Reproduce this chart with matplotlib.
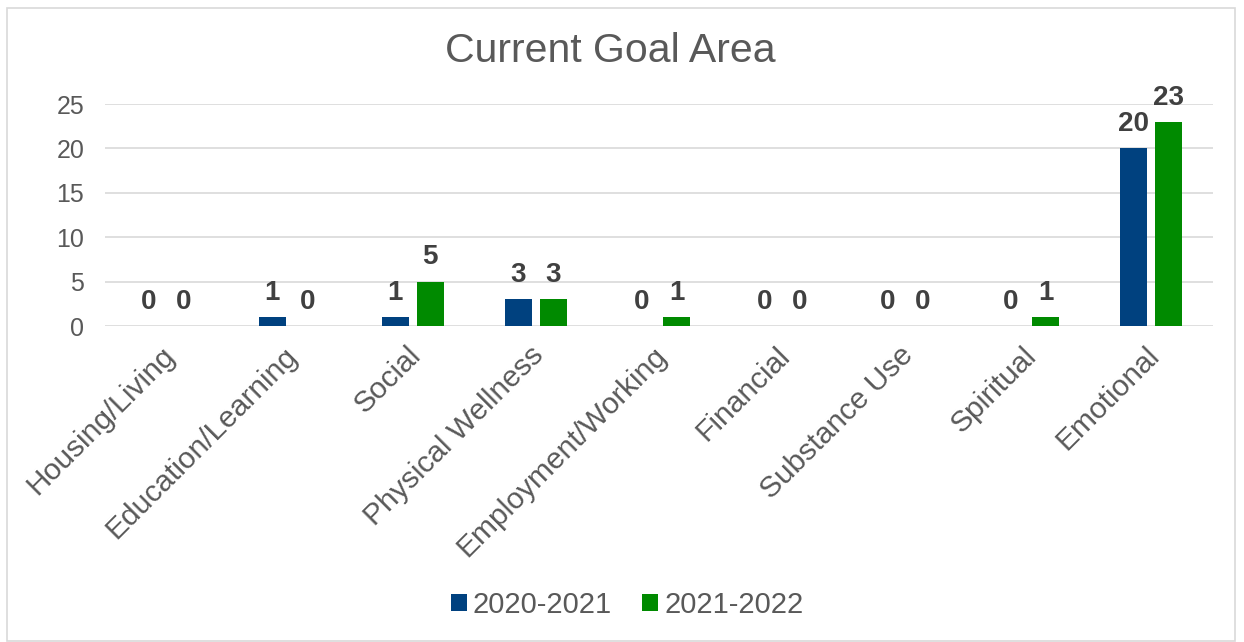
import numpy as np
import matplotlib.pyplot as plt
from matplotlib.patches import Rectangle

categories = ["Housing/Living", "Education/Learning", "Social", "Physical Wellness",
              "Employment/Working", "Financial", "Substance Use", "Spiritual", "Emotional"]
y2020 = [0, 1, 1, 3, 0, 0, 0, 0, 20]
y2021 = [0, 0, 5, 3, 1, 0, 0, 1, 23]
series_names = ["2020-2021", "2021-2022"]

blue = "#00417F"
green = "#008A00"
grey = "#595959"

plt.rcParams['font.family'] = ['Liberation Sans', 'DejaVu Sans']

fig = plt.figure(figsize=(12.44, 6.42), dpi=100)
ax = fig.add_axes([0.0844, 0.4922, 0.8906, 0.3458])

# outer chart border
fig.patches.append(Rectangle((0.006, 0.002), 0.987, 0.985, transform=fig.transFigure,
                             fill=False, edgecolor="#D9D9D9", lw=1.2))

x = np.arange(len(categories))
w = 0.22
gap = 0.065
off = (w + gap) / 2
b1 = ax.bar(x - off, y2020, w, color=blue, label=series_names[0])
b2 = ax.bar(x + off, y2021, w, color=green, label=series_names[1])

for bars in (b1, b2):
    for r, v in zip(bars, bars.datavalues):
        ax.annotate(f"{v:g}", (r.get_x() + r.get_width() / 2, v), xytext=(0, 8),
                    textcoords="offset points", ha="center", va="bottom",
                    fontsize=20, fontweight="bold", color="#404040")

ax.set_xlim(-0.5, len(categories) - 0.5)
ax.set_ylim(0, 25)
ax.set_yticks(range(0, 26, 5))
ax.grid(axis="y", color="#D9D9D9", lw=1.2)
ax.set_axisbelow(True)
for s in ax.spines.values():
    s.set_visible(False)
ax.tick_params(length=0, labelcolor=grey)
ax.tick_params(axis="y", pad=15, labelsize=18)
ax.tick_params(axis="x", pad=11, labelsize=21.5)
ax.set_xticks(x - 0.05)
ax.set_xticklabels(categories, rotation=45, ha="right", rotation_mode="anchor")

fig.text(0.491, 0.92, "Current Goal Area", ha="center", va="center", fontsize=29.5, color=grey)

fig.legend(loc="center", bbox_to_anchor=(0.504, 0.058), ncol=2, frameon=False,
           fontsize=21, labelcolor=grey, handlelength=0.55, handleheight=0.55,
           handletextpad=0.2, columnspacing=1.05)

fig.savefig("out.png", dpi=100, facecolor="white")
